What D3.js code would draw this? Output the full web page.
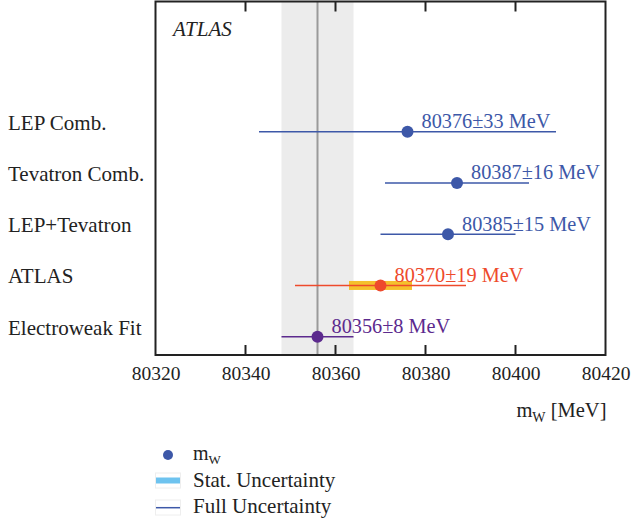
<!DOCTYPE html>
<html><head><meta charset="utf-8">
<script src="https://cdn.jsdelivr.net/npm/d3@7"></script>
<style>body{margin:0;background:#fff}text{font-family:"Liberation Serif","DejaVu Serif",serif}</style>
</head><body><svg id="c" width="634" height="523"></svg>
<script>
const categories = ["LEP Comb.","Tevatron Comb.","LEP+Tevatron","ATLAS","Electroweak Fit"];
const central = [80376, 80387, 80385, 80370, 80356];
const fullUnc = [33, 16, 15, 19, 8];
const statUnc = [null, null, null, 7, null];
const labels = ["80376±33 MeV","80387±16 MeV","80385±15 MeV","80370±19 MeV","80356±8 MeV"];
const colors = ["#3d58a8","#3d58a8","#3d58a8","#ee4a2c","#5c2a8e"];
const xTicks = [80320,80340,80360,80380,80400,80420];
const fitCentral = 80356, fitUnc = 8;

const svg = d3.select("#c");
const L=155.5, R=605.5, T=1.5, B=355;
const x = d3.scaleLinear().domain([80320,80420]).range([L,R]);
const y = d3.scalePoint().domain(categories).range([131.7,336.7]);

// fit band
svg.append("rect").attr("x",x(fitCentral-fitUnc)).attr("y",T).attr("width",x(fitCentral+fitUnc)-x(fitCentral-fitUnc)).attr("height",B-T).attr("fill","#ececec");
svg.append("line").attr("x1",x(fitCentral)).attr("x2",x(fitCentral)).attr("y1",T).attr("y2",B).attr("stroke","#9a9a9a").attr("stroke-width",2);

// frame
svg.append("rect").attr("x",L).attr("y",T).attr("width",R-L).attr("height",B-T).attr("fill","none").attr("stroke","#222").attr("stroke-width",2);

// axes
const axB = d3.axisBottom(x).tickValues(xTicks).tickSize(0).tickFormat(d3.format("d"));
const gB = svg.append("g").attr("transform",`translate(0,${B})`).call(axB);
gB.select(".domain").remove();
gB.selectAll("text").attr("font-size",19.5).attr("fill","#222").attr("dy","1.15em").style("font-family","'Liberation Serif',serif");
svg.selectAll(".tk").data(xTicks.slice(1,-1)).join("g").each(function(d){
  const g=d3.select(this);
  g.append("line").attr("x1",x(d)).attr("x2",x(d)).attr("y1",B).attr("y2",B-10).attr("stroke","#222").attr("stroke-width",2);
  g.append("line").attr("x1",x(d)).attr("x2",x(d)).attr("y1",T).attr("y2",T+10).attr("stroke","#222").attr("stroke-width",2);
});

// axis title
const ttl = svg.append("text").attr("x",R+1).attr("y",416.5).attr("text-anchor","end").attr("font-size",20.5).attr("fill","#222");
ttl.append("tspan").text("m");
ttl.append("tspan").attr("font-size",14).attr("dy",5).text("W");
ttl.append("tspan").attr("dy",-5).text(" [MeV]");

// ATLAS label
svg.append("text").attr("x",173).attr("y",36).attr("font-size",21).attr("font-style","italic").attr("fill","#222").text("ATLAS");

// category labels
svg.selectAll(".cat").data(categories).join("text").attr("x",8).attr("y",d=>y(d)-2).attr("font-size",21).attr("fill","#222").text(d=>d);

// data
categories.forEach((c,i)=>{
  const yy=y(c);
  if(statUnc[i]!=null){
    svg.append("rect").attr("x",x(central[i]-statUnc[i])).attr("y",yy-4.5).attr("width",x(central[i]+statUnc[i])-x(central[i]-statUnc[i])).attr("height",9).attr("fill","#f5c02c");
  }
  svg.append("line").attr("x1",x(central[i]-fullUnc[i])).attr("x2",x(central[i]+fullUnc[i])).attr("y1",yy).attr("y2",yy).attr("stroke",colors[i]).attr("stroke-width",1.5);
  svg.append("circle").attr("cx",x(central[i])).attr("cy",yy).attr("r",6).attr("fill",colors[i]);
  svg.append("text").attr("x",x(central[i])+14).attr("y",yy-3.5).attr("font-size",20.3).attr("fill",colors[i]).text(labels[i]);
});

// legend
svg.append("circle").attr("cx",168).attr("cy",455).attr("r",5).attr("fill","#3d58a8");
const lt=svg.append("text").attr("x",193).attr("y",459.5).attr("font-size",20).attr("fill","#222");
lt.append("tspan").text("m");
lt.append("tspan").attr("font-size",13).attr("dy",4).text("W");
svg.append("rect").attr("x",155.5).attr("y",473).attr("width",25).attr("height",15).attr("fill","none").attr("stroke","#eeeeee").attr("stroke-width",1);
svg.append("rect").attr("x",156).attr("y",477.5).attr("width",24).attr("height",6).attr("fill","#6ec3ef");
svg.append("text").attr("x",193).attr("y",486.5).attr("font-size",21).attr("fill","#222").text("Stat. Uncertainty");
svg.append("rect").attr("x",155.5).attr("y",500).attr("width",25).attr("height",15).attr("fill","none").attr("stroke","#eeeeee").attr("stroke-width",1);
svg.append("line").attr("x1",156).attr("x2",180).attr("y1",507.7).attr("y2",507.7).attr("stroke","#3d58a8").attr("stroke-width",1.5);
svg.append("text").attr("x",193).attr("y",512.7).attr("font-size",21).attr("fill","#222").text("Full Uncertainty");
</script></body></html>
